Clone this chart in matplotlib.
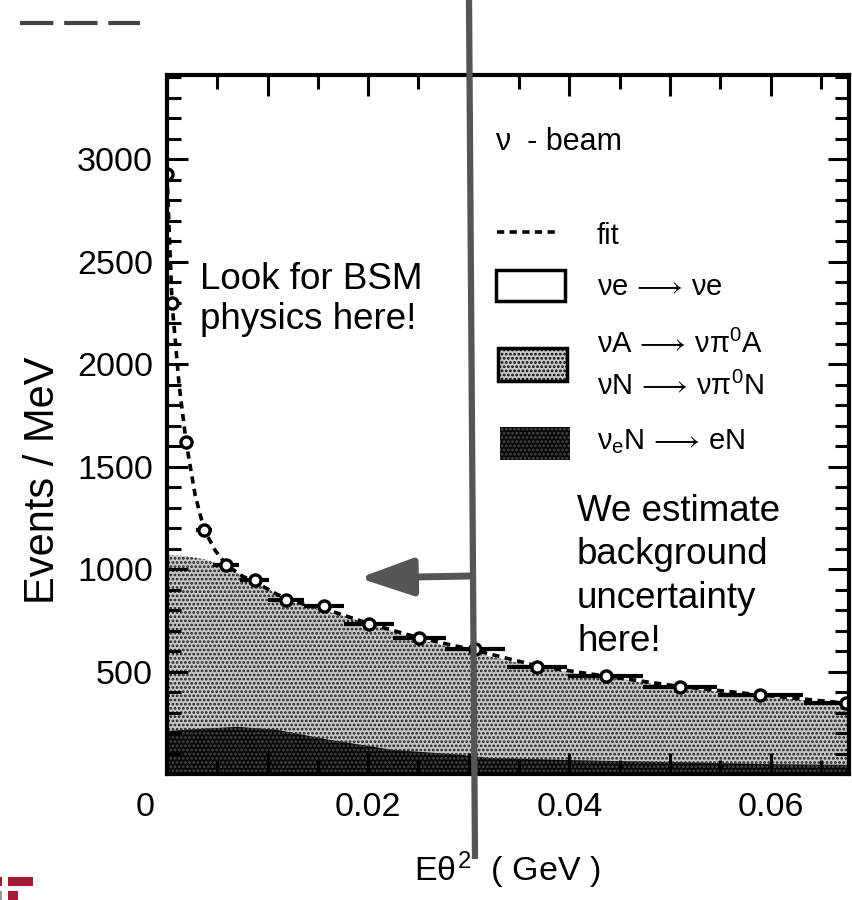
import matplotlib
matplotlib.use("Agg")
import matplotlib.pyplot as plt
from matplotlib.patches import Rectangle
from matplotlib.lines import Line2D
from matplotlib.ticker import MultipleLocator
from matplotlib.transforms import ScaledTranslation

plt.rcParams["font.family"] = ["Liberation Sans", "DejaVu Sans"]
plt.rcParams["mathtext.fontset"] = "custom"
plt.rcParams["mathtext.rm"] = "Liberation Sans"
plt.rcParams["mathtext.it"] = "Liberation Sans"
plt.rcParams["hatch.linewidth"] = 1.3

# data points (bin centre, events/MeV, half bin width)
x_pts = [0.0000, 0.0005, 0.0019, 0.0037, 0.0059, 0.0087, 0.0118, 0.0156,
         0.0201, 0.0251, 0.0306, 0.0368, 0.0436, 0.0510, 0.0590, 0.0675]
y_pts = [2925, 2300, 1620, 1190, 1020, 947, 850, 818,
         732, 664, 610, 522, 478, 425, 386, 347]
x_half = [0.0003, 0.0004, 0.0006, 0.0008, 0.0013, 0.0014, 0.0018, 0.0020,
          0.0025, 0.0026, 0.0030, 0.0030, 0.0037, 0.0037, 0.0042, 0.0042]

# fit curve
fit_x = [0.0000, 0.0005, 0.0012, 0.0019, 0.0028, 0.0037, 0.0048, 0.0059, 0.0075,
         0.0090, 0.0110, 0.0135, 0.0160, 0.0200, 0.0250, 0.0305, 0.0370, 0.0435,
         0.0510, 0.0590, 0.0676]
fit_y = [2925, 2300, 1900, 1620, 1360, 1190, 1090, 1020, 965,
         930, 875, 830, 800, 735, 665, 605, 525, 478,
         427, 386, 345]

# pi0 background (top of stack)
bg_x = [0.0000, 0.0020, 0.0040, 0.0060, 0.0080, 0.0100, 0.0120, 0.0150, 0.0180,
        0.0210, 0.0250, 0.0300, 0.0350, 0.0400, 0.0450, 0.0500, 0.0550, 0.0600, 0.0676]
bg_y = [1070, 1062, 1045, 1005, 955, 905, 845, 805, 765,
        720, 655, 600, 540, 495, 465, 425, 400, 375, 338]

# nu_e N -> eN background
dk_x = [0.0000, 0.0040, 0.0070, 0.0110, 0.0160, 0.0225, 0.0290, 0.0320,
        0.0400, 0.0500, 0.0600, 0.0676]
dk_y = [210, 222, 230, 215, 168, 117, 95, 78, 68, 58, 48, 45]

GRAY_FACE = "#c6c6c6"
DARK_FACE = "#080808"

fig = plt.figure(figsize=(8.52, 9), dpi=100)
ax = fig.add_axes([0.196, 0.14, 0.8005, 0.7767])

ax.fill_between(bg_x, 0, bg_y, facecolor=GRAY_FACE, edgecolor="#1e1e1e",
                hatch="....", linewidth=0)
ax.fill_between(dk_x, 0, dk_y, facecolor=DARK_FACE, edgecolor="#4a4a4a",
                hatch="....", linewidth=0)

ax.plot(fit_x, fit_y, color="black", linestyle=(0, (2, 1.5)), linewidth=2.6)
ax.errorbar(x_pts, y_pts, xerr=x_half, fmt="o", color="black", mfc="white",
            mec="black", mew=2.4, ms=8, elinewidth=3, capsize=0)

ax.set_xlim(0, 0.0678)
ax.set_ylim(0, 3410)
ax.set_xticks([0, 0.01, 0.02, 0.03, 0.04, 0.05, 0.06])
ax.set_xticklabels(["0", "", "0.02", "", "0.04", "", "0.06"])
ax.xaxis.set_minor_locator(MultipleLocator(0.005))
ax.set_yticks([500, 1000, 1500, 2000, 2500, 3000])
ax.yaxis.set_minor_locator(MultipleLocator(100))
ax.tick_params(which="both", direction="in", top=True, right=True, width=2.2)
ax.tick_params(which="major", length=15, labelsize=24.5)
ax.tick_params(which="minor", length=10)
ax.tick_params(axis="x", pad=13)
ax.tick_params(axis="y", pad=10)
for sp in ax.spines.values():
    sp.set_linewidth(3)

# the "0" label sits left of the axis in the original scan
lbl0 = ax.get_xticklabels()[0]
lbl0.set_transform(lbl0.get_transform() + ScaledTranslation(-0.22, 0, fig.dpi_scale_trans))

ax.set_ylabel("Events / MeV", fontsize=30)
ax.yaxis.set_label_coords(-0.152, 0.42)
fig.text(0.595, 0.033, r"E$\theta^2$  ( GeV )", fontsize=24.5, ha="center", va="center")

# legend drawn by hand
LFS = 21
ax.text(0.481, 0.904, "ν  - beam", transform=ax.transAxes, fontsize=22, va="center")
ax.add_line(Line2D([0.484, 0.572], [0.775, 0.775], transform=ax.transAxes,
                   color="black", linestyle=(0, (2, 1.5)), linewidth=2.6))
ax.text(0.630, 0.770, "fit", transform=ax.transAxes, fontsize=LFS, va="center")
ax.add_patch(Rectangle((0.482, 0.677), 0.101, 0.044, transform=ax.transAxes,
                       facecolor="white", edgecolor="black", linewidth=2.5))
ax.text(0.630, 0.696, r"νe$\,\longrightarrow\,$νe", transform=ax.transAxes,
        fontsize=LFS, va="center")
ax.add_patch(Rectangle((0.485, 0.562), 0.101, 0.047, transform=ax.transAxes,
                       facecolor=GRAY_FACE, edgecolor="black", hatch="....", linewidth=2.5))
ax.text(0.630, 0.614, r"νA$\,\longrightarrow\,$νπ$^0$A", transform=ax.transAxes,
        fontsize=LFS, va="center")
ax.text(0.630, 0.554, r"νN$\,\longrightarrow\,$νπ$^0$N", transform=ax.transAxes,
        fontsize=LFS, va="center")
ax.add_patch(Rectangle((0.488, 0.449), 0.103, 0.048, transform=ax.transAxes,
                       facecolor=DARK_FACE, edgecolor="#4a4a4a", hatch="....", linewidth=0))
ax.text(0.630, 0.476, r"ν$_e$N$\,\longrightarrow\,$eN", transform=ax.transAxes,
        fontsize=LFS, va="center")

# slide annotations
fig.text(200 / 852, 1 - 262 / 900, "Look for BSM\nphysics here!", fontsize=26.5,
         va="top", ha="left", linespacing=1.18)
fig.text(577 / 852, 1 - 494 / 900, "We estimate\nbackground\nuncertainty\nhere!",
         fontsize=26.5, va="top", ha="left", linespacing=1.31)

fig.add_artist(Line2D([469 / 852, 475 / 852], [1.0, 1 - 859 / 900],
                      color="#555555", linewidth=4.5, solid_capstyle="butt"))
ax.annotate("", xy=(359 / 852, 1 - 578 / 900), xytext=(470 / 852, 1 - 576 / 900),
            xycoords="figure fraction", textcoords="figure fraction",
            arrowprops=dict(arrowstyle="-|>,head_length=3.3,head_width=1.15",
                            color="#555555", linewidth=5, shrinkA=0, shrinkB=0))

fig.add_artist(Line2D([20 / 852, 140 / 852], [1 - 23 / 900, 1 - 23 / 900],
                      color="#444444", linewidth=3, linestyle=(0, (8, 2.6))))

# logo fragment bottom-left
for x0, y0, w, h in [(0, 877, 2, 9), (8, 877, 25, 9), (8, 891, 10, 9)]:
    fig.add_artist(Rectangle((x0 / 852, 1 - (y0 + h) / 900), w / 852, h / 900,
                             transform=fig.transFigure, facecolor="#A51C36", edgecolor="none"))
fig.add_artist(Rectangle((0, 0), 2 / 852, 9 / 900, transform=fig.transFigure,
                         facecolor="#999999", edgecolor="none"))

fig.savefig("out.png", dpi=100)
